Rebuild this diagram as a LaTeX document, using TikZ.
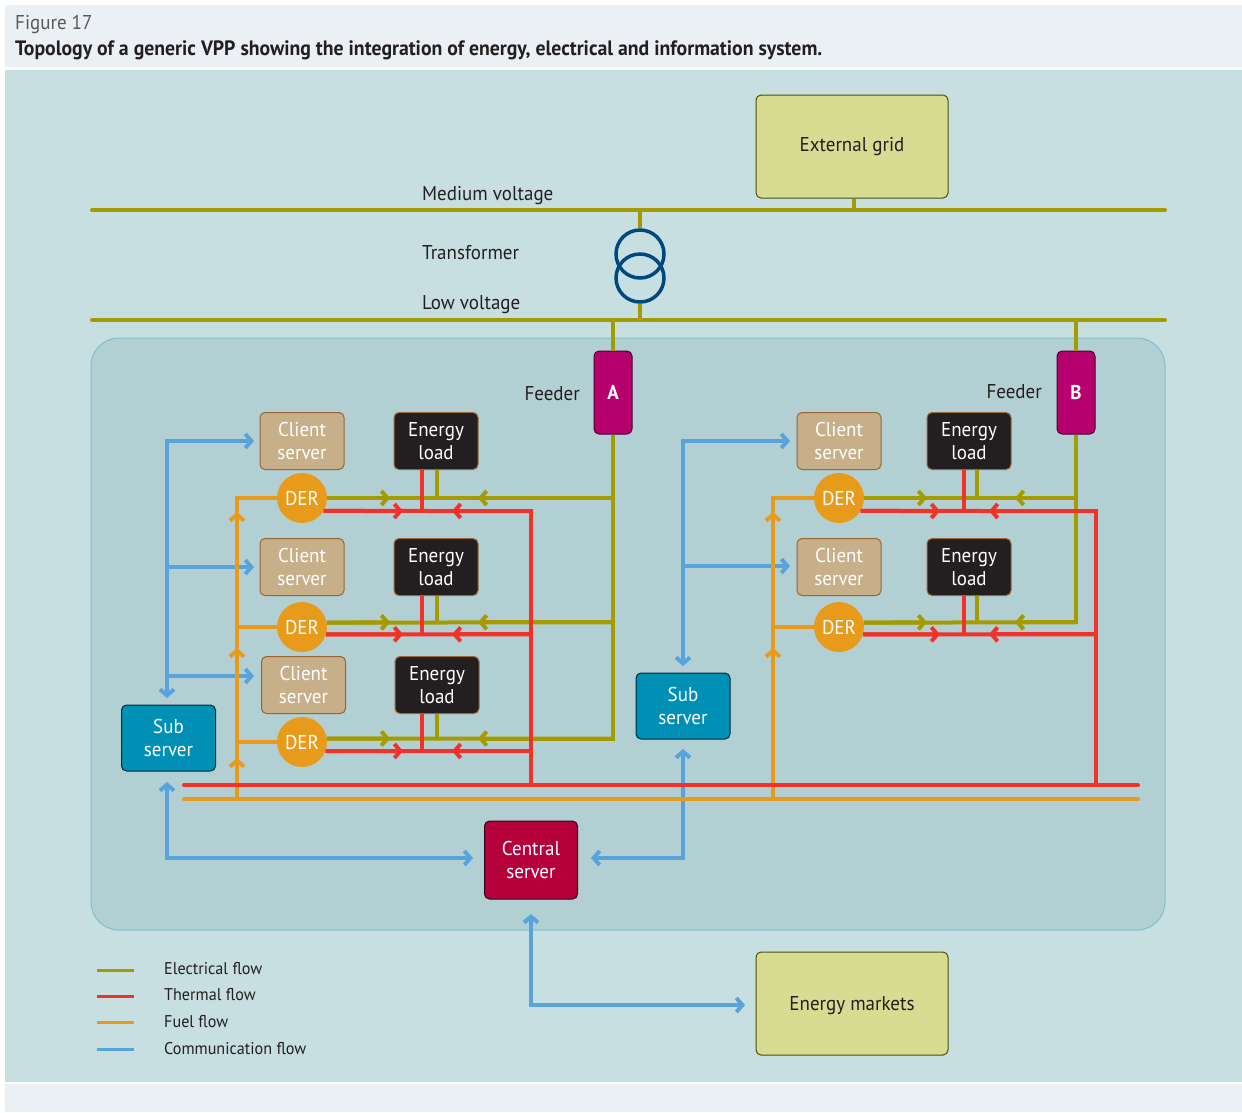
\documentclass[tikz,border=0pt]{standalone}
\usepackage{fontspec}
\setmainfont[FakeStretch=0.95]{PT Sans}
\usetikzlibrary{arrows.meta}

\definecolor{panelpale}{HTML}{EBF0F4}
\definecolor{panelmain}{HTML}{C7DFE1}
\definecolor{panelvpp}{HTML}{B2D0D4}
\definecolor{panelline}{HTML}{7FBFCF}
\definecolor{textdark}{HTML}{231F20}
\definecolor{elecc}{HTML}{A39B00}
\definecolor{thermc}{HTML}{F0322A}
\definecolor{fuelc}{HTML}{E89A1A}
\definecolor{commc}{HTML}{58A3D9}
\definecolor{gridc}{HTML}{D6DC91}
\definecolor{clientc}{HTML}{C7AF89}
\definecolor{subc}{HTML}{008FB5}
\definecolor{centralc}{HTML}{B5003C}
\definecolor{feederc}{HTML}{B5006E}
\definecolor{transc}{HTML}{004880}

\tikzset{
  lab/.style={font=\fontsize{20}{22}\selectfont, text=textdark, inner sep=0pt},
  leglab/.style={font=\fontsize{17}{20}\selectfont, text=textdark, inner sep=0pt, anchor=west},
  box/.style={draw, rounded corners=5pt, inner sep=0pt, align=center, line width=1pt,
    font=\fontsize{20}{22.5}\selectfont, text=white},
  outerbox/.style={box, draw=black!50!elecc, fill=gridc, text=textdark, minimum width=192pt, minimum height=103pt},
  clientbox/.style={box, draw=brown!80!black, fill=clientc, minimum width=84pt, minimum height=57pt},
  loadbox/.style={box, draw=brown!80!black, fill=textdark, minimum width=84pt, minimum height=57pt},
  subbox/.style={box, draw=black!70!subc, fill=subc, minimum width=94pt, minimum height=66pt},
  centralbox/.style={box, draw=black!70!centralc, fill=centralc, minimum width=93pt, minimum height=78pt},
  feederbox/.style={box, draw=black!60!feederc, fill=feederc, minimum width=38pt, minimum height=83pt,
    font=\fontsize{20}{23}\selectfont\bfseries},
  dernode/.style={circle, fill=fuelc, minimum size=50pt, inner sep=0pt, text=white,
    font=\fontsize{20}{23}\selectfont},
  coil/.style={circle, draw=transc, line width=3.5pt, minimum size=48pt, inner sep=0pt},
  elec/.style={draw=elecc, line width=4pt},
  therm/.style={draw=thermc, line width=4pt},
  fuel/.style={draw=fuelc, line width=4pt},
  comm/.style={draw=commc, line width=4pt},
  chev/.style={-{Straight Barb[length=6pt,width=14pt]}},
  chevb/.style={{Straight Barb[length=6pt,width=14pt]}-{Straight Barb[length=6pt,width=14pt]}},
}

\begin{document}
\begin{tikzpicture}[x=1pt, y=-1pt]
  \useasboundingbox (0, 0) rectangle (1242, 1112);
  \fill[white] (0, 0) rectangle (1242, 1112);
  \fill[panelpale] (5, 5) rectangle (1242, 67);
  \fill[panelmain] (5, 70) rectangle (1242, 1082);
  \fill[panelpale] (5, 1084) rectangle (1242, 1112);
  \draw[panelline, fill=panelvpp, line width=1pt, rounded corners=28pt] (91, 338) rectangle (1165, 930);

  \node[lab, anchor=west, text=textdark!75] (figno) at (15, 24) {Figure 17};
  \node[lab, anchor=west, font=\fontsize{20.8}{23}\selectfont\bfseries] (title) at (15, 50)
    {Topology of a generic VPP showing the integration of energy, electrical and information system.};

  % busbars and transformer
  \node[outerbox] (extgrid) at (852, 146.5) {External grid};
  \node[outerbox, text height=18pt, text depth=4pt] (markets) at (852, 1003.5) {Energy markets};
  \node[coil] (coilup) at (640, 254) {};
  \node[coil] (coildown) at (640, 278) {};
  \coordinate (mvl) at (92, 210);
  \coordinate (mvr) at (1165, 210);
  \coordinate (lvl) at (92, 320);
  \coordinate (lvr) at (1165, 320);
  \draw[elec, line cap=round] (mvl) -- (mvr);
  \draw[elec, line cap=round] (lvl) -- (lvr);
  \draw[elec] (extgrid.south -| 854, 0) -- (854, 210);
  \draw[elec] (coilup.north) -- (640, 210);
  \draw[elec] (coildown.south) -- (640, 320);
  \node[lab, anchor=west] (mvlab) at (422, 196) {Medium voltage};
  \node[lab, anchor=west] (trlab) at (422, 253) {Transformer};
  \node[lab, anchor=west] (lvlab) at (422, 305) {Low voltage};

  % feeders
  \node[feederbox] (feeda) at (613, 392.5) {A};
  \node[feederbox] (feederb) at (1076, 392.5) {B};
  \node[lab, anchor=east] (fdalab) at (580, 394) {Feeder};
  \node[lab, anchor=east] (fdblab) at (1042, 392) {Feeder};
  \draw[elec] (feeda.north) -- (613, 320);
  \draw[elec] (feederb.north) -- (1076, 320);
  \draw[elec] (feeda.south) -- (613, 740.5);
  \draw[elec] (feederb.south) -- (1076, 624.3);

  % servers
  \node[subbox] (subl) at (168.5, 738) {Sub\\server};
  \node[subbox] (subr) at (683, 706) {Sub\\server};
  \node[centralbox] (central) at (531, 860) {Central\\server};

  % communication
  \coordinate (commlt) at (167, 441);
  \coordinate (commrt) at (683, 441);
  \coordinate (commlb) at (167, 858);
  \coordinate (commrb) at (683, 858);
  \coordinate (commm) at (531, 1005);
  \draw[comm, chev] (commlt) -- (167, 698);
  \draw[comm, chev] (commrt) -- (683, 666);
  \draw[comm, chevb] (167, 782) -- (commlb) -- (473, 858);
  \draw[comm, chevb] (683, 749) -- (commrb) -- (591, 858);
  \draw[comm, chevb] (531, 914) -- (commm) -- (745, 1005);
  \draw[comm, chev] (167, 439) -- (167, 441) -- (254, 441);
  \draw[comm, chev] (167, 567) -- (254, 567);
  \draw[comm, chev] (167, 676) -- (254, 676);
  \draw[comm, chev] (683, 439) -- (683, 441) -- (790, 441);
  \draw[comm, chev] (683, 566) -- (790, 566);

  % fuel
  \coordinate (fuelbusl) at (184, 799);
  \coordinate (fuelbusr) at (1138, 799);
  \draw[fuel, line cap=round] (fuelbusl) -- (fuelbusr);
  \foreach \fx/\tips in {237/{512,648,758}, 773/{512,648}} {
    \draw[fuel] (\fx, 799) -- (\fx, 496);
    \foreach \tipy in \tips
      \draw[fuel, chev] (\fx, 799) -- (\fx, \tipy);
  }

  % thermal bus
  \coordinate (thermbusl) at (184, 785);
  \coordinate (thermbusr) at (1138, 785);

  % one row per DER
  \foreach \n/\dx/\cx/\lx/\cy/\dy/\ey/\ty/\ea/\fx/\rx/\tx/\sx in {
    a/302/302/436/441/498/498/511/0/237/613/422/437,
    b/302/302/436/567/627/622.3/634.3/10.8/237/613/422/437,
    c/302/303.5/437/685/742/738.5/751/8/237/613/422/437,
    d/839/839/969/441/498/498/511/0/773/1076/964/977,
    e/839/839/969/567/627/622.3/634.3/10.8/773/1076/964/977} {
    \node[clientbox] (client\n) at (\cx, \cy) {Client\\server};
    \node[loadbox] (load\n) at (\lx, \cy) {Energy\\load};
    \node[dernode] (der\n) at (\dx, \dy) {DER};
    \coordinate (eleca\n) at (\rx, \ey);
    \coordinate (therma\n) at (\tx, \ty);
    \draw[fuel] (der\n.west) -- (\fx, \dy);
    \draw[elec] (der\n.\ea) -- (eleca\n);
    \draw[elec, chev] (der\n.\ea) -- ({\dx+88}, \ey);
    \draw[elec, chev] (eleca\n) -- ({\dx+176}, \ey);
    \draw[elec] (\sx, \ey) -- (load\n.south -| \sx, 0);
    \draw[therm] (\tx, \ty) -- (load\n.south -| \tx, 0);
  }

  % thermal lines go last, they cross the olive ones
  \draw[therm] (531, 509) -- (531, 785);
  \draw[therm] (1096, 509) -- (1096, 785);
  \draw[therm, line cap=round] (thermbusl) -- (thermbusr);
  \foreach \n/\dx/\ty/\ta/\bx in {
    a/302/511/-31.3/533, b/302/634.3/-17/531, c/302/751/-21.1/531,
    d/839/511/-31.3/1098, e/839/634.3/-17/1096} {
    \coordinate (thermb\n) at (\bx, \ty);
    \draw[therm] (der\n.\ta) -- (thermb\n);
    \draw[therm, chev] (der\n.\ta) -- ({\dx+101}, \ty);
    \draw[therm, chev] (thermb\n) -- ({\dx+150}, \ty);
  }

  % legend
  \foreach \i/\sty/\ly/\ty/\txt in {
    1/elec/970/969/Electrical flow,
    2/therm/996/995/Thermal flow,
    3/fuel/1022/1022/Fuel flow,
    4/comm/1049/1049/Communication flow} {
    \coordinate (legl\i) at (97, \ly);
    \coordinate (legr\i) at (134, \ly);
    \draw[\sty, line width=3pt] (legl\i) -- (legr\i);
    \node[leglab] (legt\i) at (164, \ty) {\txt};
  }
\end{tikzpicture}
\end{document}
